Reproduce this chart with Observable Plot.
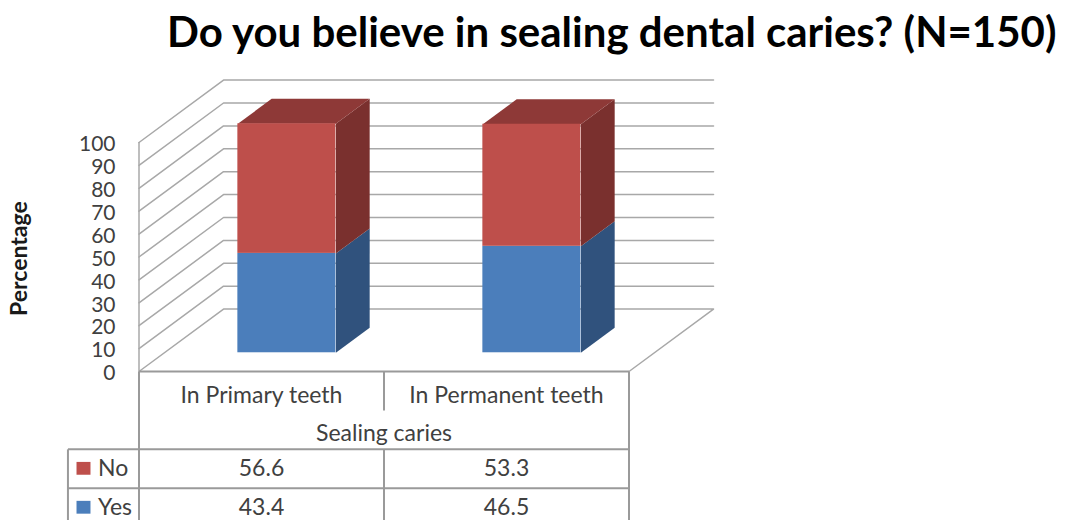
<!DOCTYPE html>
<html>
<head>
<meta charset="utf-8">
<script src="https://cdn.jsdelivr.net/npm/d3@7"></script>
<script src="https://cdn.jsdelivr.net/npm/@observablehq/plot@0.6"></script>
<style>
  html, body { margin: 0; padding: 0; background: #fff; overflow: hidden; }
  #title { height: 60px; padding-left: 167px; font: bold 42px/63px Lato, sans-serif; color: #000; white-space: nowrap; box-sizing: border-box; }
  svg { display: block; }
</style>
</head>
<body>
<div id="title">Do you believe in sealing dental caries? (N=150)</div>
<div id="chart"></div>
<script>
// Data
const categories = ["In Primary teeth", "In Permanent teeth"];
const noValues = [56.6, 53.3];
const yesValues = [43.4, 46.5];
const axisTicks = d3.range(0, 101, 10);
const axisTitle = "Percentage";
const categoryTitle = "Sealing caries";

// Palette
const front = {No: "#be4f4b", Yes: "#4b7ebb"};
const side = {No: "#7a302e", Yes: "#30527d"};
const topFace = "#8e3937";
const lineColor = "#a8a8a8";
const tableColor = "#9a9a9a";
const textColor = "#404040";

// Oblique projection of the 3-D box, in scale units per unit of depth
const shearX = 0.345, shearY = 27.25;
const at = (x, y, d) => ({x: x + shearX * d, y: y + shearY * d});
const barStart = 0.3, barEnd = 0.7, depthStart = 0.3, depthEnd = 0.7;

// Walls and floor
const wall = axisTicks.flatMap((v) => {
  const pts = [at(0, v, 0), at(0, v, 1), at(2, v, 1)];
  if (v === 0) pts.push(at(2, v, 0));
  return pts.map((p) => ({...p, z: v}));
});

// Bars
const segments = categories.flatMap((c, i) => [
  {i, name: "Yes", low: 0, high: yesValues[i]},
  {i, name: "No", low: yesValues[i], high: yesValues[i] + noValues[i]}
]);
const polygon = (corners, fill, key) =>
  corners.map((p) => ({...p, z: key, fill}));
const sides = segments.flatMap((s) => {
  const x = s.i + barEnd;
  return polygon([at(x, s.low, depthStart), at(x, s.low, depthEnd), at(x, s.high, depthEnd), at(x, s.high, depthStart)], side[s.name], `side${s.i}${s.name}`);
});
const tops = segments.filter((s) => s.name === "No").flatMap((s) => {
  const a = s.i + barStart, b = s.i + barEnd;
  return polygon([at(a, s.high, depthStart), at(b, s.high, depthStart), at(b, s.high, depthEnd), at(a, s.high, depthEnd)], topFace, `top${s.i}`);
});

// Data table laid out under the axis, in scale units
const rowHeader = -10.5, rowGroup = -27, rowNo = -42.5, rowYes = -59.5;
const lineNo = -34, lineYes = -51, lineEnd = -70;
const legendLeft = -0.29;
const tableLines = [
  {x1: 0, x2: 2, y1: 0, y2: 0},
  {x1: legendLeft, x2: 2, y1: lineNo, y2: lineNo},
  {x1: legendLeft, x2: 2, y1: lineYes, y2: lineYes},
  {x1: 0, x2: 0, y1: 0, y2: lineEnd},
  {x1: 2, x2: 2, y1: 0, y2: lineEnd},
  {x1: legendLeft, x2: legendLeft, y1: lineNo, y2: lineEnd},
  {x1: 1, x2: 1, y1: 0, y2: -17},
  {x1: 1, x2: 1, y1: lineNo, y2: lineEnd}
];
const rows = [
  {name: "No", values: noValues, y: rowNo},
  {name: "Yes", values: yesValues, y: rowYes}
];
const cells = rows.flatMap((r) => r.values.map((v, i) => ({x: i + 0.5, y: r.y, text: String(v)})));
const headers = categories.map((c, i) => ({x: i + 0.5, y: rowHeader, text: c}));
const font = {fontSize: 23, fontFamily: "Lato, sans-serif", fill: textColor};

const plot = Plot.plot({
  width: 1072,
  height: 460,
  marginLeft: 138.5,
  marginRight: 443.5,
  marginTop: 82,
  marginBottom: 149,
  style: {background: "transparent", overflow: "hidden"},
  x: {type: "linear", domain: [0, 2], axis: null},
  y: {type: "linear", domain: [0, 100], axis: null},
  color: {type: "identity"},
  marks: [
    Plot.line(wall, {x: "x", y: "y", z: "z", stroke: lineColor, strokeWidth: 1.5}),
    Plot.ruleX([0], {y1: 0, y2: 100, stroke: lineColor, strokeWidth: 1.5}),
    Plot.axisY({ticks: axisTicks, tickSize: 0, tickPadding: 23.5, dy: 2, tickFormat: (d) => d, label: null, fontSize: 21, fontFamily: "Lato, sans-serif", color: textColor}),
    Plot.line(sides, {x: "x", y: "y", z: "z", fill: "fill", stroke: null}),
    Plot.line(tops, {x: "x", y: "y", z: "z", fill: "fill", stroke: null}),
    Plot.rect(segments, {
      x1: (s) => at(s.i + barStart, 0, depthStart).x,
      x2: (s) => at(s.i + barEnd, 0, depthStart).x,
      y1: (s) => at(0, s.low, depthStart).y,
      y2: (s) => at(0, s.high, depthStart).y,
      fill: (s) => front[s.name]
    }),
    Plot.link(tableLines, {x1: "x1", x2: "x2", y1: "y1", y2: "y2", stroke: tableColor, strokeWidth: 2}),
    Plot.text(headers, {x: "x", y: "y", text: "text", ...font}),
    Plot.text([categoryTitle], {x: 1, y: rowGroup, text: (d) => d, ...font}),
    Plot.text(cells, {x: "x", y: "y", text: "text", ...font}),
    Plot.rect(rows, {
      x1: -0.253, x2: -0.196,
      y1: (r) => r.y - 2.8, y2: (r) => r.y + 2.8,
      fill: (r) => front[r.name]
    }),
    Plot.text(rows, {x: -0.167, y: "y", text: "name", textAnchor: "start", ...font}),
    Plot.text([axisTitle], {x: -0.486, y: 49.3, text: (d) => d, rotate: -90, fontSize: 23, fontWeight: "bold", fontFamily: "Lato, sans-serif", fill: "#1a1a1a"})
  ]
});
document.getElementById("chart").append(plot);
</script>
</body>
</html>
